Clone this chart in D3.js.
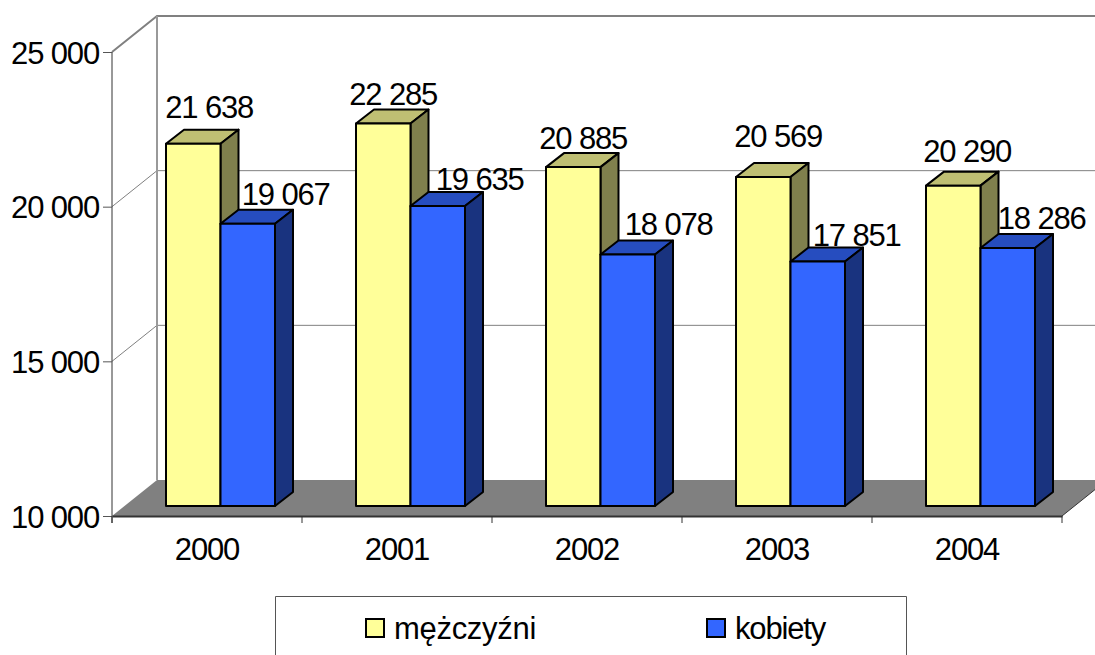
<!DOCTYPE html>
<html>
<head>
<meta charset="utf-8">
<script src="https://cdn.jsdelivr.net/npm/d3@7"></script>
<style>
    html, body { margin: 0; padding: 0; background: #fff; overflow: hidden; }
    text { font-family: "Liberation Sans", Arial, sans-serif; font-size: 31px; letter-spacing: -1.15px; fill: #000; }
</style>
</head>
<body>
<svg id="chart" width="1095" height="655"></svg>
<script>
    var years = ["2000", "2001", "2002", "2003", "2004"];
    var men = [21638, 22285, 20885, 20569, 20290];
    var women = [19067, 19635, 18078, 17851, 18286];
    var yTicks = [10000, 15000, 20000, 25000];
    var seriesNames = ["mężczyźni", "kobiety"];

    // labels in the picture were placed by hand, so each one has its own nudge
    var menNudge = [[16, -26], [10, -19], [10, -18], [15, -30], [14, -24]];
    var womenNudge = [[38, -19], [42, -16], [41, -20], [39, -16], [34, -19]];

    var svg = d3.select("#chart");

    var left = 112, right = 1062, dx = 45, dy = 36;
    var barDx = 18, barDy = 14;
    var barW = 54.5, barOffset = 54;

    var y = d3.scaleLinear().domain([10000, 25000]).range([516, 52]);
    // bars stand a little forward of the axis plane
    var yBar = d3.scaleLinear().domain([10000, 25000]).range([506, 39]);
    var x = d3.scaleBand().domain(years).range([left, right]);

    var fmt = function (d) { return d3.format(",")(d).replace(",", " "); };

    // floor
    svg.append("polygon")
        .attr("points", [[left, y(10000)], [left + dx, y(10000) - dy], [right + dx, y(10000) - dy], [right, y(10000)]].join(" "))
        .attr("fill", "#808080");

    // grid lines on the walls
    yTicks.slice(1).forEach(function (t) {
        var wall = t === 25000 ? 2 : 1;
        svg.append("path")
            .attr("d", d3.line()([[left, y(t)], [left + dx, y(t) - dy], [right + dx, y(t) - dy]]))
            .attr("fill", "none")
            .attr("stroke", "#808080")
            .attr("stroke-width", wall);
    });
    svg.append("line")
        .attr("x1", left + dx).attr("x2", left + dx)
        .attr("y1", y(25000) - dy).attr("y2", y(10000) - dy)
        .attr("stroke", "#999")
        .attr("stroke-width", 2);

    // bars, drawn with a fake depth
    function bar(g, xPos, value, front, top, side) {
        var x0 = xPos, x1 = xPos + barW;
        var y0 = yBar(value), y1 = yBar(10000);
        g.append("polygon")
            .attr("points", [[x0, y0], [x0 + barDx, y0 - barDy], [x1 + barDx, y0 - barDy], [x1, y0]].join(" "))
            .attr("fill", top);
        g.append("polygon")
            .attr("points", [[x1, y0], [x1 + barDx, y0 - barDy], [x1 + barDx, y1 - barDy], [x1, y1]].join(" "))
            .attr("fill", side);
        g.append("rect")
            .attr("x", x0).attr("y", y0)
            .attr("width", barW).attr("height", y1 - y0)
            .attr("fill", front);
    }

    var groups = svg.selectAll("g.year")
        .data(years)
        .enter()
        .append("g")
        .attr("class", "year")
        .attr("stroke", "#000")
        .attr("stroke-width", 2)
        .attr("stroke-linejoin", "round");

    groups.each(function (d, i) {
        var g = d3.select(this);
        var start = x(d) + barOffset;
        bar(g, start, men[i], "#FFFF99", "#BFBF73", "#80804D");
        bar(g, start + barW, women[i], "#3366FF", "#264DBF", "#19337F");
    });

    // value labels
    years.forEach(function (d, i) {
        var start = x(d) + barOffset;
        svg.append("text")
            .attr("x", start + barW / 2 + menNudge[i][0])
            .attr("y", yBar(men[i]) + menNudge[i][1])
            .attr("text-anchor", "middle")
            .text(fmt(men[i]));
        svg.append("text")
            .attr("x", start + barW * 1.5 + womenNudge[i][0])
            .attr("y", yBar(women[i]) + womenNudge[i][1])
            .attr("text-anchor", "middle")
            .text(fmt(women[i]));
    });

    // axes
    var yAxis = svg.append("g")
        .attr("transform", "translate(" + left + ",0)")
        .call(d3.axisLeft(y).tickValues(yTicks).tickFormat(fmt).tickSize(9).tickPadding(4));
    yAxis.select(".domain").attr("stroke", "#333").attr("d", "M0,52V523");
    yAxis.selectAll(".tick line").attr("stroke", "#555");
    yAxis.selectAll("text").attr("dy", "0.36em").style("font-size", "31px").style("font-family", "Liberation Sans");

    var xAxis = svg.append("g")
        .attr("transform", "translate(0," + y(10000) + ")")
        .call(d3.axisBottom(x).tickSize(0).tickPadding(22));
    xAxis.select(".domain").attr("stroke", "#333").attr("stroke-width", 2);
    xAxis.selectAll("text").style("font-size", "31px").style("font-family", "Liberation Sans");
    xAxis.selectAll("line.edge")
        .data(d3.range(years.length + 1))
        .enter()
        .append("line")
        .attr("class", "edge")
        .attr("x1", function (d) { return left + d * x.step(); })
        .attr("x2", function (d) { return left + d * x.step(); })
        .attr("y1", 0).attr("y2", 7)
        .attr("stroke", "#333");
    svg.append("line")
        .attr("x1", right).attr("x2", right + dx)
        .attr("y1", y(10000)).attr("y2", y(10000) - dy)
        .attr("stroke", "#333");

    // legend
    svg.append("path")
        .attr("d", "M275.5,655V596.5H906.5V655")
        .attr("fill", "#fff")
        .attr("stroke", "#555");

    var legendX = [366, 707];
    var legendSpacing = ["-0.3px", "-1.15px"];
    var legendColors = ["#FFFF99", "#3366FF"];
    seriesNames.forEach(function (name, i) {
        svg.append("rect")
            .attr("x", legendX[i]).attr("y", 619)
            .attr("width", 18).attr("height", 18)
            .attr("fill", legendColors[i])
            .attr("stroke", "#000")
            .attr("stroke-width", 2);
        svg.append("text")
            .attr("x", legendX[i] + 28)
            .attr("y", 639)
            .style("letter-spacing", legendSpacing[i])
            .text(name);
    });
</script>
</body>
</html>
